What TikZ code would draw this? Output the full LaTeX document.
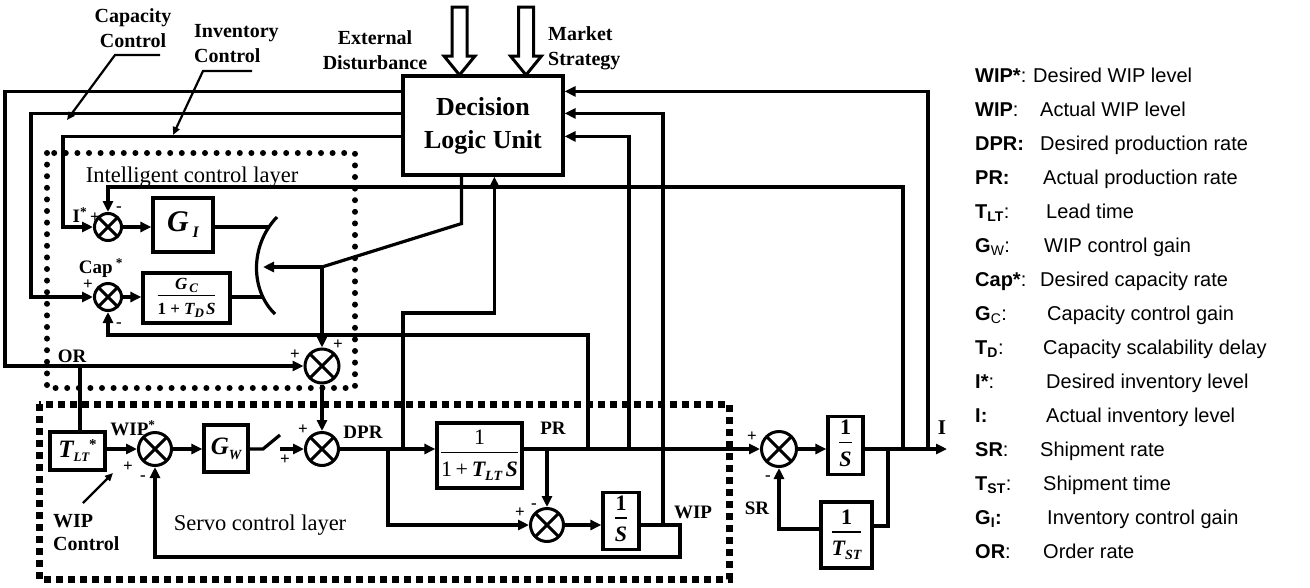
\documentclass[tikz,border=0pt]{standalone}
\usepackage{fontspec}
\setmainfont{Liberation Serif}
\newfontfamily\arial{Liberation Sans}
\usetikzlibrary{arrows.meta,calc}
\setlength{\arrayrulewidth}{1.6pt}
\newcommand{\mybi}[1]{{\bfseries\itshape #1}}
\newcommand{\myfrac}[2]{\begin{tabular}{@{}c@{}}#1\\[-1pt]\hline\rule{0pt}{1.05em}#2\end{tabular}}
\begin{document}
\begin{tikzpicture}[x=1pt,y=-1pt,
  wire/.style={line width=3.2pt},
  conn/.style={line width=3.2pt,-{Triangle[length=11pt,width=10pt]}},
  thin/.style={line width=2.2pt,-{Triangle[length=8pt,width=7pt]}},
  blk/.style={draw,line width=3.2pt,inner sep=0pt,fill=white},
  summer/.style={circle,draw,line width=3pt,inner sep=0pt,fill=white,minimum size=#1,
    path picture={\draw[line width=3pt] (path picture bounding box.north west) -- (path picture bounding box.south east)
      (path picture bounding box.north east) -- (path picture bounding box.south west);}},
  summer/.default=33pt,
  lab/.style={font=\fontsize{19}{22}\selectfont\bfseries,inner sep=0pt},
  sg/.style={font=\fontsize{17}{17}\selectfont\bfseries,inner sep=0pt},
  big/.style={line width=3pt,fill=white},
  leg/.style={font=\arial\fontsize{20}{24}\selectfont,inner sep=0pt,anchor=base west}
]
\useasboundingbox (0,0) rectangle (1310,587);

% layers
\draw[line width=6pt,dash pattern=on 0pt off 11.6pt,line cap=round] (47,153) rectangle (355,388);
\draw[line width=7pt,dash pattern=on 7pt off 5pt] (39,404) rectangle (729,579);
\node[font=\fontsize{22.5}{26}\selectfont,inner sep=0pt] (intl) at (192,177) {Intelligent control layer};
\node[font=\fontsize{22.5}{26}\selectfont,inner sep=0pt] (servl) at (260,525) {Servo control layer};

% decision logic unit
\node[blk,minimum width=160pt,minimum height=99pt,font=\fontsize{26}{33}\selectfont\bfseries,align=center] (dlu) at (483,125.5) {Decision\\Logic Unit};

% big input arrows
\draw[big] (452,7) -- (467,7) -- (467,56) -- (475,56) -- (459.5,75) -- (444,56) -- (452,56) -- cycle;
\draw[big] (518.5,7) -- (533.5,7) -- (533.5,56) -- (541.5,56) -- (526,75) -- (510.5,56) -- (518.5,56) -- cycle;
\node[lab,font=\fontsize{20}{25}\selectfont\bfseries,align=center] (extd) at (375,50) {External\\Disturbance};
\node[lab,font=\fontsize{20}{25}\selectfont\bfseries,align=left,anchor=west] (mkts) at (548,48) {Market\\Strategy};
\node[lab,font=\fontsize{20}{25}\selectfont\bfseries,align=center] (capc) at (133,28) {Capacity\\Control};
\node[lab,font=\fontsize{20}{25}\selectfont\bfseries,align=left,anchor=west] (invc) at (194,44) {Inventory\\Control};

% summers
\node[summer=27pt] (sI) at (108,227) {};
\node[summer=27pt] (sC) at (108,297) {};
\node[summer=34pt] (sO) at (322,366) {};
\node[summer] (sW) at (155,449) {};
\node[summer] (sD) at (322,449) {};
\node[summer] (sP) at (547,525) {};
\node[summer=35pt] (sS) at (779,449) {};

% blocks
\node[blk,minimum width=60pt,minimum height=54pt] (gi) at (183,225)
  {{\fontsize{30}{30}\selectfont\mybi{G}}\hspace{4pt}\raisebox{-6pt}{\fontsize{16}{16}\selectfont\mybi{I}}};
\node[blk,minimum width=87pt,minimum height=50pt,font=\fontsize{17}{20}\selectfont\bfseries] (gc) at (186.5,298)
  {\myfrac{\mybi{G}\hspace{2pt}\raisebox{-3pt}{\fontsize{13}{13}\selectfont\mybi{C}}}{1 + \mybi{T}\raisebox{-3pt}{\fontsize{13}{13}\selectfont\mybi{D}}\hspace{2pt}\mybi{S}}};
\node[blk,minimum width=55pt,minimum height=38pt] (tlts) at (77.5,451)
  {{\fontsize{25}{25}\selectfont\mybi{T}}\raisebox{-4pt}{\fontsize{13}{13}\selectfont\mybi{LT}}\raisebox{8pt}{\fontsize{15}{15}\selectfont\bfseries *}};
\node[blk,minimum width=44pt,minimum height=47pt] (gw) at (226,448.5)
  {{\fontsize{25}{25}\selectfont\mybi{G}}\raisebox{-5pt}{\fontsize{14}{14}\selectfont\mybi{W}}};
\node[blk,minimum width=85pt,minimum height=65pt,font=\fontsize{22}{26}\selectfont] (tl) at (479.5,455.5)
  {\myfrac{1}{1\,+\,\mybi{T}\raisebox{-4pt}{\fontsize{14}{14}\selectfont\mybi{LT}}\,\mybi{S}}};
\node[blk,minimum width=36pt,minimum height=54pt,font=\fontsize{22}{26}\selectfont\bfseries] (s1) at (621,521)
  {\myfrac{1}{\mybi{S}}};
\node[blk,minimum width=35pt,minimum height=55pt,font=\fontsize{22}{26}\selectfont\bfseries] (s2) at (845.5,445.5)
  {\myfrac{1}{\mybi{S}}};
\node[blk,minimum width=51pt,minimum height=66pt,font=\fontsize{22}{26}\selectfont\bfseries] (tst) at (846.5,535)
  {\myfrac{1}{\mybi{T}\raisebox{-4pt}{\fontsize{14}{14}\selectfont\mybi{ST}}}};

% switch contact arc
\coordinate (arcT) at (277,217);
\coordinate (arcB) at (275,314);
\draw[wire] (arcT) .. controls (250,245) and (250,290) .. (arcB);
\coordinate (arcI) at (270,227);
\coordinate (arcC) at (262,297);

% junction coordinates
\coordinate (jI1) at (928,449);
\coordinate (jI2) at (903,449);
\coordinate (jWIP) at (663,525);
\coordinate (jPR1) at (629,449);
\coordinate (jPR2) at (588,449);
\coordinate (jPR3) at (547,449);
\coordinate (jDPR) at (403,449);
\coordinate (jDPR2) at (388,449);
\coordinate (jOR) at (80,366);
\coordinate (jT) at (888,449);
\coordinate (sw) at (322,267);
\coordinate (swtip) at (263,267);
\coordinate (swA) at (263,449);
\coordinate (swB) at (280,449);
\coordinate (Iout) at (947,449);

% DLU outputs on the left
\draw[conn] ($(dlu.north west)+(0,17)$) -| (5,366) -- (sO.west);
\draw[conn] ($(dlu.north west)+(0,39)$) -| (31,297) -- (sC.west);
\draw[conn] ($(dlu.north west)+(0,62)$) -| (63,227) -- (sI.west);

% feedback into DLU
\draw[conn] (jI1) |- ($(dlu.north east)+(0,17)$);
\draw[conn] (jWIP) |- ($(dlu.north east)+(0,39)$);
\draw[conn] (jPR1) |- ($(dlu.north east)+(0,62)$);
\draw[conn] (jI2) -- (903,187) -| (sI.north);
\draw[conn] (jDPR) -- (403,313) -| ($(dlu.south west)+(93,0)$);
\draw[conn] (jPR2) -- (588,335) -| (sC.south);

% switch drive from DLU
\draw[wire] ($(dlu.south west)+(60,0)$) -- ++(0,47) -- (sw);
\draw[conn] (sw) -- (swtip);
\draw[conn] (sw) -- (sO.north);

% intelligent layer
\draw[conn] (sI.east) -- (sI.east -| gi.west);
\draw[wire] (gi.east |- sI) -- (arcI);
\draw[conn] (sC.east) -- (sC.east -| gc.west);
\draw[wire] (gc.east |- sC) -- (arcC);

% servo layer
\draw[wire] (jOR) -- (jOR |- tlts.north);
\draw[conn] (tlts.east |- sW) -- (sW.west);
\draw[conn] (sW.east) -- (sW.east -| gw.west);
\draw[wire] (gw.east |- sW) -- (swA) -- (280,435);
\draw[conn] (swB) -- (sD.west);
\draw[conn] (sO.south) -- (sD.north);
\draw[conn] (sD.east) -- (sD.east -| tl.west);
\draw[conn] (tl.east |- sD) -- (sS.west);
\draw[conn] (jDPR2) |- (sP.west);
\draw[conn] (jPR3) -- (sP.north);
\draw[conn] (sP.east) -- (sP.east -| s1.west);
\draw[conn] (s1.east |- sP) -- (680,525) -- (680,557) -| (sW.south);

% inventory part
\draw[conn] (sS.east) -- (sS.east -| s2.west);
\draw[conn] (s2.east |- sS) -- (Iout);
\draw[wire] (jT) |- ($(tst.east)+(0,-9)$);
\draw[conn] ($(tst.west)+(0,-6)$) -| (sS.south);

% callouts
\coordinate (capA) at (160,55);
\coordinate (capB) at (115,55);
\coordinate (capT) at (67,120);
\draw[thin] (capA) -- (capB) -- (capT);
\coordinate (invA) at (252,71);
\coordinate (invB) at (203,71);
\coordinate (invT) at (173,135);
\draw[thin] (invA) -- (invB) -- (invT);
\node[lab,font=\fontsize{20}{23}\selectfont\bfseries,align=left,anchor=west] (wipc) at (53,533) {WIP\\Control};
\coordinate (wipA) at (83,503);
\coordinate (wipT) at (113,473);
\draw[thin] (wipA) -- (wipT);

% labels
\node[lab] (lIs) at (80,215) {I\textsuperscript{*}};
\node[sg] at (95,218) {+};
\node[sg] at (119,209) {-};
\node[lab] (lcap) at (101,268) {Cap\,\textsuperscript{*}};
\node[sg] at (88,285) {+};
\node[sg] at (119,325) {-};
\node[lab] (lOR) at (72,356) {OR};
\node[sg] at (295,355) {+};
\node[sg] at (338,345) {+};
\node[lab] (lwips) at (133,428) {WIP\textsuperscript{*}};
\node[sg] at (128,467) {+};
\node[sg] at (143,478) {-};
\node[sg] at (303,430) {+};
\node[sg] at (285,460) {+};
\node[lab] (lDPR) at (363,432) {DPR};
\node[lab] (lPR) at (553,428) {PR};
\node[sg] at (520,513) {+};
\node[sg] at (534,506) {-};
\node[lab] (lWIP) at (693,512) {WIP};
\node[sg] at (752,437) {+};
\node[sg] at (768,478) {-};
\node[lab] (lSR) at (757,508) {SR};
\node[lab,font=\fontsize{21}{22}\selectfont\bfseries] (lI) at (942,428) {I};

% legend
\foreach \i/\lb/\dx/\ds in {
  0/{\textbf{WIP*}:}/1033/{Desired WIP level},
  1/{\textbf{WIP}:}/1040/{Actual WIP level},
  2/{\textbf{DPR:}}/1040/{Desired production rate},
  3/{\textbf{PR:}}/1043/{Actual production rate},
  4/{\textbf{T\textsubscript{LT}}:}/1046/{Lead time},
  5/{\textbf{G}\textsubscript{W}:}/1044/{WIP control gain},
  6/{\textbf{Cap*}:}/1040/{Desired capacity rate},
  7/{\textbf{G}\textsubscript{C}:}/1047/{Capacity control gain},
  8/{\textbf{T\textsubscript{D}}:}/1043/{Capacity scalability delay},
  9/{\textbf{I*}:}/1046/{Desired inventory level},
  10/{\textbf{I:}}/1046/{Actual inventory level},
  11/{\textbf{SR}:}/1040/{Shipment rate},
  12/{\textbf{T\textsubscript{ST}}:}/1043/{Shipment time},
  13/{\textbf{G\textsubscript{I}:}}/1047/{Inventory control gain},
  14/{\textbf{OR}:}/1043/{Order rate}}{
  \node[leg] (legl\i) at (975,{82+34*\i}) {\lb};
  \node[leg] (legd\i) at (\dx,{82+34*\i}) {\ds};
}
\end{tikzpicture}
\end{document}
